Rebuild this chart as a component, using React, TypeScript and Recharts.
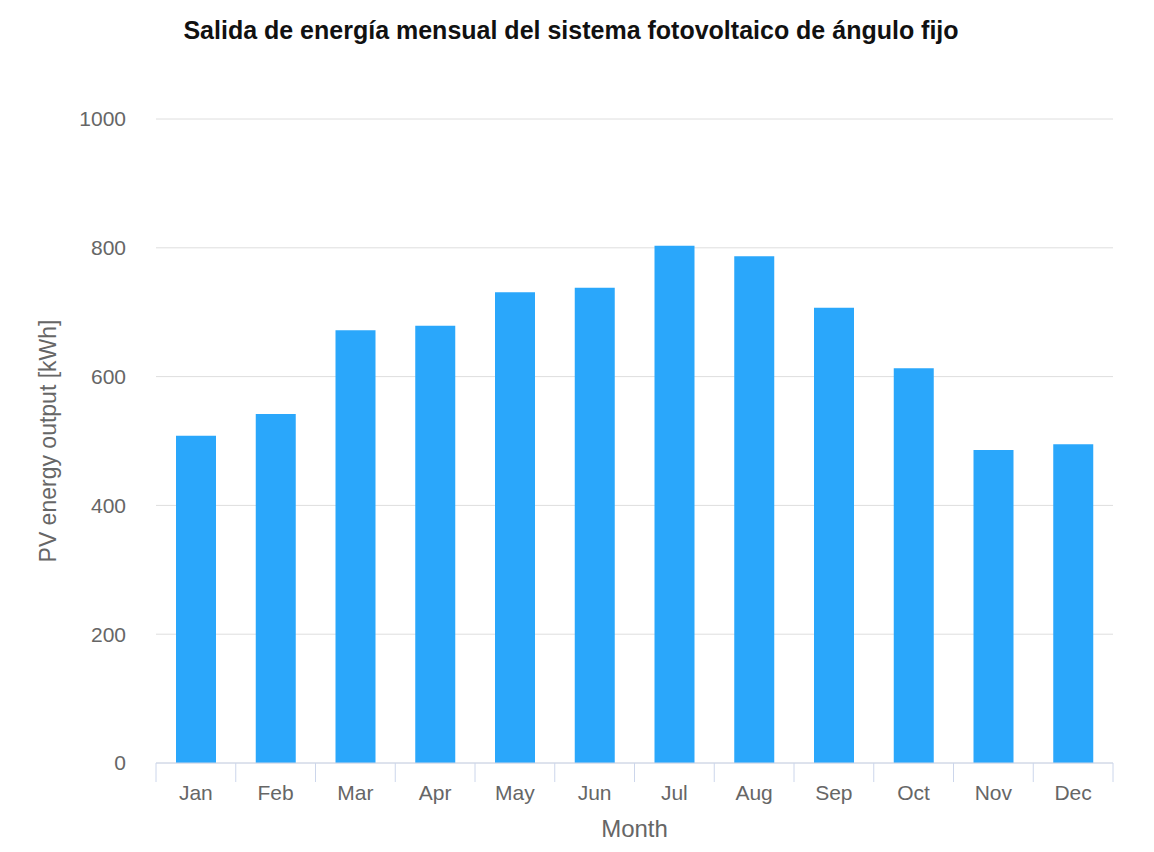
import React from "react"
import { BarChart, Bar, XAxis, YAxis, CartesianGrid } from "recharts"

// monthly PV output
const months = ["Jan", "Feb", "Mar", "Apr", "May", "Jun", "Jul", "Aug", "Sep", "Oct", "Nov", "Dec"]
const output = [508, 542, 672, 679, 731, 738, 803, 787, 707, 613, 486, 495]
const yTicks = [0, 200, 400, 600, 800, 1000]

const data = months.map((m, i) => ({ month: m, output: output[i] }))

const W = 1154
const H = 852
const PLOT_LEFT = 156
const PLOT_RIGHT = 1113
const BAND = (PLOT_RIGHT - PLOT_LEFT) / months.length

const MonthTick = (props: any) => {
  const { x, y, payload, index } = props
  const left = x - BAND / 2
  return (
    <g>
      <line x1={left} y1={y} x2={left} y2={y + 19} stroke="#ccd6eb" strokeWidth={1} />
      {index === months.length - 1 && (
        <line x1={left + BAND} y1={y} x2={left + BAND} y2={y + 19} stroke="#ccd6eb" strokeWidth={1} />
      )}
      <text x={x} y={y + 30} dy="0.35em" textAnchor="middle" fill="#666666" fontSize={21}>
        {payload.value}
      </text>
    </g>
  )
}

export default function App() {
  return (
    <div
      style={{
        position: "absolute",
        left: 0,
        top: 0,
        width: W,
        height: H,
        background: "#fff",
        fontFamily: "'Liberation Sans', Arial, sans-serif",
      }}
    >
      <div
        style={{
          position: "absolute",
          left: 0,
          top: 16,
          width: 1142,
          textAlign: "center",
          fontSize: 25,
          fontWeight: "bold",
          color: "#111",
        }}
      >
        Salida de energía mensual del sistema fotovoltaico de ángulo fijo
      </div>
      <BarChart
        width={W}
        height={H}
        data={data}
        margin={{ top: 119, right: W - PLOT_RIGHT, left: 0, bottom: 0 }}
        barSize={40}
      >
        <CartesianGrid vertical={false} stroke="#dedede" />
        <XAxis
          dataKey="month"
          height={89}
          axisLine={{ stroke: "#ccd6eb" }}
          tickLine={false}
          tickSize={0}
          tickMargin={0}
          interval={0}
          tick={<MonthTick />}
          label={{ value: "Month", position: "insideBottom", offset: 15, fill: "#666666", fontSize: 24 }}
        />
        <YAxis
          width={PLOT_LEFT}
          domain={[0, 1000]}
          ticks={yTicks}
          axisLine={false}
          tickLine={false}
          tickSize={0}
          tickMargin={30}
          tick={{ fill: "#666666", fontSize: 21 }}
          label={{
            value: "PV energy output [kWh]",
            angle: -90,
            position: "insideLeft",
            offset: 48,
            style: { textAnchor: "middle", fill: "#666666", fontSize: 23 },
          }}
        />
        <Bar dataKey="output" fill="#2aa7fb" isAnimationActive={false} />
      </BarChart>
    </div>
  )
}
